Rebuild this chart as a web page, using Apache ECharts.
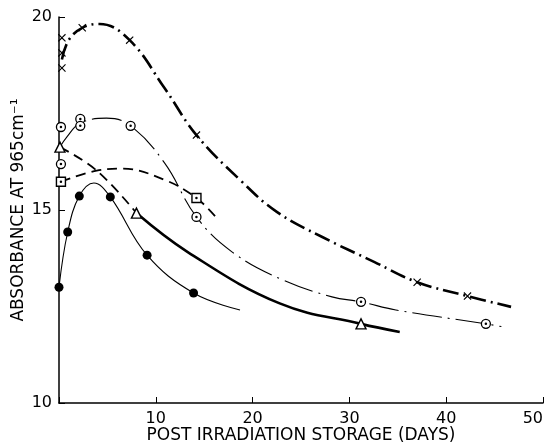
<!DOCTYPE html>
<html>
<head>
<meta charset="utf-8">
<script src="https://cdn.jsdelivr.net/npm/echarts@6/dist/echarts.min.js"></script>
<style>
html, body { margin: 0; padding: 0; background: #fff; }
#chart { width: 546px; height: 443px; }
</style>
</head>
<body>
<div id="chart"></div>
<script>
// values: [days, absorbance]
var crossMarks = [[0.3, 18.68], [0.3, 19.07], [0.3, 19.46], [2.4, 19.72], [7.3, 19.40], [14.2, 16.94], [37.0, 13.13], [42.2, 12.77]];
var crossCurve = [[0.3, 18.9], [1.0, 19.4], [2.4, 19.72], [4.2, 19.82], [7.3, 19.40], [10.9, 18.16], [14.2, 16.94], [18.7, 15.78], [22.5, 14.95], [27.2, 14.30], [32.6, 13.65], [37.0, 13.13], [42.2, 12.77], [46.7, 12.49]];

var ringMarks = [[0.2, 17.15], [0.2, 16.19], [2.2, 17.36], [2.2, 17.18], [7.4, 17.18], [14.2, 14.82], [31.2, 12.62], [44.1, 12.05]];
var ringCurve = [[0.1, 16.63], [0.8, 16.89], [2.2, 17.25], [4.9, 17.38], [7.4, 17.18], [10.9, 16.22], [14.2, 14.82], [17.9, 13.91], [23.1, 13.19], [28.2, 12.75], [31.2, 12.62], [34.8, 12.41], [44.1, 12.05], [45.7, 11.98]];

var squareMarks = [[0.2, 15.73], [14.2, 15.31]];
var squareCurve = [[0.2, 15.73], [3.9, 16.02], [6.5, 16.07], [10.9, 15.78], [14.2, 15.31], [16.3, 14.79]];

var triMarks = [[0.1, 16.63], [8.0, 14.92], [31.2, 12.05]];
var triDashCurve = [[0.1, 16.63], [3.9, 16.02], [8.0, 14.92]];
var triSolidCurve = [[8.0, 14.92], [13.3, 13.91], [22.8, 12.58], [31.2, 12.05], [35.2, 11.84]];

var dotMarks = [[0.0, 13.0], [0.9, 14.43], [2.1, 15.36], [5.3, 15.34], [9.1, 13.83], [13.9, 12.85]];
var dotCurve = [[0.0, 13.0], [0.9, 14.43], [2.1, 15.36], [3.6, 15.70], [5.3, 15.34], [9.1, 13.83], [13.9, 12.85], [18.7, 12.41]];

var xTicks = [10, 20, 30, 40, 50];
var yTicks = [10, 15, 20];

var chart = echarts.init(document.getElementById("chart"));
var font = "DejaVu Sans";
var crossPath = "path://M0,1 L1,0 L5,4 L9,0 L10,1 L6,5 L10,9 L9,10 L5,6 L1,10 L0,9 L4,5 Z";

function curve(data, width, type) {
  return {
    type: "line",
    data: data,
    smooth: 0.4,
    showSymbol: false,
    silent: true,
    z: 2,
    lineStyle: { color: "#000", width: width, type: type }
  };
}
function marks(data, symbol, size, fill, border) {
  return {
    type: "scatter",
    data: data,
    symbol: symbol,
    symbolSize: size,
    z: 5,
    itemStyle: { color: fill, borderColor: "#000", borderWidth: border, opacity: 1 }
  };
}

var option = {
  backgroundColor: "#ffffff",
  animation: false,
  grid: { left: 59, right: 3, top: 17, bottom: 40, outerBoundsMode: "none", containLabel: false },
  xAxis: {
    type: "value",
    min: 0,
    max: 50,
    interval: 10,
    name: "POST IRRADIATION STORAGE (DAYS)",
    nameLocation: "middle",
    nameGap: 25,
    nameMoveOverlap: false,
    nameTextStyle: { fontFamily: font, fontSize: 17, color: "#000", verticalAlign: "top", lineHeight: 16 },
    axisLine: { lineStyle: { color: "#000", width: 1.5 } },
    axisTick: { inside: true, length: 6, lineStyle: { color: "#000" } },
    axisLabel: {
      fontFamily: font, fontSize: 16, color: "#000", margin: 8, alignMaxLabel: "right",
      formatter: function (v) { return xTicks.indexOf(v) >= 0 ? String(v) : ""; }
    },
    splitLine: { show: false }
  },
  yAxis: {
    type: "value",
    min: 10,
    max: 20,
    interval: 5,
    name: "ABSORBANCE AT 965cm\u207B\u00B9",
    nameLocation: "middle",
    nameRotate: 90,
    nameGap: 32,
    nameMoveOverlap: false,
    nameTextStyle: { fontFamily: font, fontSize: 17, color: "#000" },
    axisLine: { show: true, lineStyle: { color: "#000", width: 1.5 } },
    axisTick: { show: true, inside: true, length: 6, lineStyle: { color: "#000" } },
    axisLabel: {
      fontFamily: font, fontSize: 16, color: "#000", margin: 7,
      formatter: function (v) { return yTicks.indexOf(v) >= 0 ? String(v) : ""; }
    },
    splitLine: { show: false }
  },
  series: [
    curve(crossCurve, 2.6, [16, 5, 2, 5]),
    curve(ringCurve, 1.1, [30, 6, 2, 6]),
    curve(squareCurve, 1.8, [10, 6]),
    curve(triDashCurve, 1.8, [10, 6]),
    curve(triSolidCurve, 2.6, "solid"),
    curve(dotCurve, 1.1, "solid"),
    marks(crossMarks, crossPath, 8, "#000", 0),
    marks(ringMarks, "circle", 9, "#fff", 1.3),
    marks(ringMarks, "circle", 2.5, "#000", 0),
    marks(squareMarks, "rect", 9, "#fff", 1.4),
    marks(squareMarks, "circle", 2.5, "#000", 0),
    marks(triMarks, "triangle", 10, "#fff", 1.4),
    marks(dotMarks, "circle", 9, "#000", 0)
  ]
};
chart.setOption(option);
</script>
</body>
</html>
